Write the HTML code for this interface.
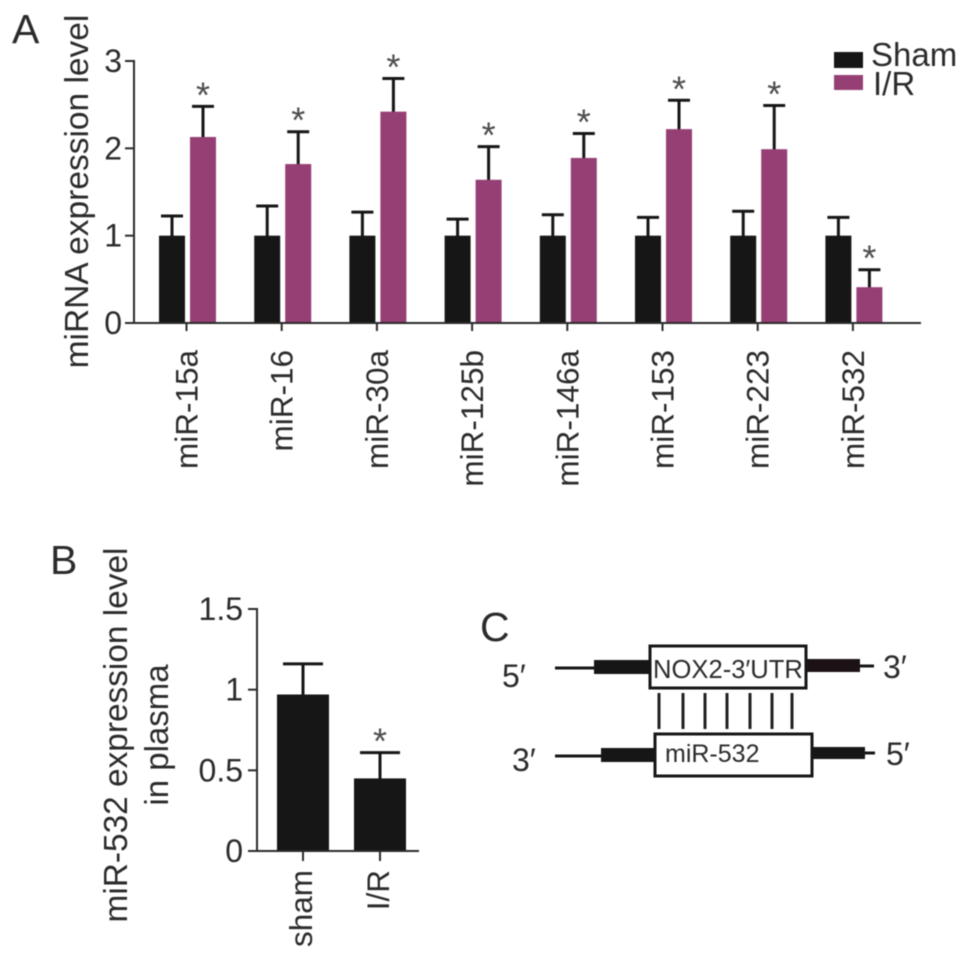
<!DOCTYPE html>
<html lang="en">
<head>
<meta charset="utf-8">
<title>miRNA expression chart</title>
<style>
html,body{margin:0;padding:0;background:#fff;}
body{width:969px;height:961px;overflow:hidden;}
svg{display:block;filter:blur(0.45px);}
text{font-family:"Liberation Sans","DejaVu Sans",sans-serif;fill:#2b2b2b;}
</style>
</head>
<body>
<svg id="figure" width="969" height="961" viewBox="0 0 969 961" xmlns="http://www.w3.org/2000/svg">
  <text x="12" y="43" font-size="41">A</text>
  <text x="50" y="574" font-size="41">B</text>
  <text x="480" y="641" font-size="41">C</text>

  <text transform="translate(88,191.5) rotate(-90)" text-anchor="middle" font-size="33.5">miRNA expression level</text>
  <text transform="translate(127,735) rotate(-90)" text-anchor="middle" font-size="33.4">miR-532 expression level</text>
  <text transform="translate(168,735) rotate(-90)" text-anchor="middle" font-size="33">in plasma</text>

  <g id="panel-a"></g>
  <g id="panel-b"></g>

  <g>
    <rect x="834" y="52" width="29" height="16" fill="#161616"/>
    <text x="871" y="66" font-size="33">Sham</text>
    <rect x="834" y="75" width="29" height="15" fill="#963f75"/>
    <text x="873" y="95" font-size="33">I/R</text>
  </g>

  <g>
    <line x1="555" y1="668" x2="595" y2="668" stroke="#161616" stroke-width="3"/>
    <rect x="594" y="660" width="56" height="14" fill="#161616"/>
    <rect x="806" y="659" width="54" height="13" fill="#1c1216"/>
    <line x1="860" y1="666" x2="874" y2="666" stroke="#161616" stroke-width="3"/>
    <rect x="650" y="646" width="156" height="42" fill="#fff" stroke="#161616" stroke-width="3"/>
    <text x="653" y="678" font-size="25.6">NOX2-3′UTR</text>

    <line x1="659" y1="693" x2="659" y2="729" stroke="#222" stroke-width="3"/>
    <line x1="683" y1="693" x2="683" y2="729" stroke="#222" stroke-width="3"/>
    <line x1="705" y1="693" x2="705" y2="729" stroke="#222" stroke-width="3"/>
    <line x1="727" y1="693" x2="727" y2="729" stroke="#222" stroke-width="3"/>
    <line x1="750" y1="693" x2="750" y2="729" stroke="#222" stroke-width="3"/>
    <line x1="772" y1="693" x2="772" y2="729" stroke="#222" stroke-width="3"/>
    <line x1="792" y1="693" x2="792" y2="729" stroke="#222" stroke-width="3"/>

    <line x1="555" y1="756" x2="602" y2="756" stroke="#161616" stroke-width="3"/>
    <rect x="601" y="748" width="54" height="14" fill="#161616"/>
    <rect x="812" y="747" width="53" height="12" fill="#161616"/>
    <line x1="865" y1="753" x2="875" y2="753" stroke="#161616" stroke-width="3"/>
    <rect x="655" y="734" width="157" height="42" fill="#fff" stroke="#161616" stroke-width="3"/>
    <text x="665" y="762" font-size="25">miR-532</text>

    <text x="502" y="687" font-size="32">5′</text>
    <text x="883" y="678" font-size="32">3′</text>
    <text x="512" y="771" font-size="32">3′</text>
    <text x="886" y="765" font-size="32">5′</text>
  </g>
</svg>

<script>
var categoriesA = ['miR-15a', 'miR-16', 'miR-30a', 'miR-125b', 'miR-146a', 'miR-153', 'miR-223', 'miR-532'];
var shamValues = [1, 1, 1, 1, 1, 1, 1, 1];
var shamErrorTops = [1.225, 1.34, 1.27, 1.19, 1.24, 1.21, 1.28, 1.21];
var irValues = [2.13, 1.82, 2.42, 1.64, 1.89, 2.22, 1.99, 0.41];
var irErrorTops = [2.48, 2.19, 2.80, 2.02, 2.17, 2.55, 2.49, 0.61];
var irSignificant = [true, true, true, true, true, true, true, true];
var tickLabelsA = ['0', '1', '2', '3'];
var tickValuesA = [0, 1, 2, 3];

var categoriesB = ['sham', 'I/R'];
var plasmaValues = [0.97, 0.45];
var plasmaErrorTops = [1.16, 0.61];
var plasmaSignificant = [false, true];
var tickLabelsB = ['0', '0.5', '1', '1.5'];
var tickValuesB = [0, 0.5, 1, 1.5];

var SVG_NS = 'http://www.w3.org/2000/svg';
var INK = '#161616';
var PURPLE = '#963f75';
var AXIS = '#2b2b2b';

function yA(v) { return 323 - v * (262 / 3); }
function xA(i) { return 187.5 + i * 95.2; }
function yB(v) { return 851 - v * (242 / 1.5); }
function xB(i) { return 303 + i * 77; }

function mk(parent, tag, attrs, content) {
  var el = document.createElementNS(SVG_NS, tag);
  for (var k in attrs) { el.setAttribute(k, attrs[k]); }
  if (content !== undefined) { el.textContent = content; }
  parent.appendChild(el);
  return el;
}

function drawErrorBar(parent, cx, top, base, capWidth, name) {
  var g = mk(parent, 'g', {});
  
  
  var stem = mk(g, 'line', { x1: cx, x2: cx, y1: top, y2: base, stroke: INK, 'stroke-width': 3 });
  
  
  var cap = mk(g, 'line', { x1: cx - capWidth / 2, x2: cx + capWidth / 2, y1: top, y2: top, stroke: INK, 'stroke-width': 3 });
  
  
}

function drawAsterisk(parent, cx, errorTopY, name) {
  var t = mk(parent, 'text', { x: cx, y: errorTopY + 1, 'text-anchor': 'middle', 'font-size': 36 }, '*');
  t.style.fill = '#4d4d4d';
  
  
}

function drawPanelA() {
  var root = document.getElementById('panel-a');
  var barW = 26;
  var zero = yA(0);

  categoriesA.forEach(function (cat, i) {
    var c = xA(i);
    var sx = c - 28.5;
    var px = c + 2.5;

    drawErrorBar(root, sx + barW / 2, yA(shamErrorTops[i]), yA(shamValues[i]) + 2, 22, 'sham-error-' + cat);
    drawErrorBar(root, px + barW / 2, yA(irErrorTops[i]), yA(irValues[i]) + 2, 22, 'ir-error-' + cat);

    var sb = mk(root, 'rect', { x: sx, y: yA(shamValues[i]), width: barW, height: zero - yA(shamValues[i]), fill: INK });
    
    

    var pb = mk(root, 'rect', { x: px, y: yA(irValues[i]), width: barW, height: zero - yA(irValues[i]), fill: PURPLE });
    
    

    if (irSignificant[i]) {
      drawAsterisk(root, px + barW / 2, yA(irErrorTops[i]), 'significance-' + cat);
    }

    var tick = mk(root, 'line', { x1: c - 1, x2: c - 1, y1: zero, y2: zero + 8, stroke: AXIS, 'stroke-width': 2 });
    
    

    var label = mk(root, 'text', {
      transform: 'translate(' + (c + 10) + ',350) rotate(-90)',
      'text-anchor': 'end',
      'font-size': 31.5
    }, cat);
    
    
  });

  var yAxis = mk(root, 'line', { x1: 134, x2: 134, y1: yA(3) - 1, y2: zero, stroke: AXIS, 'stroke-width': 2 });
  
  

  var xAxis = mk(root, 'line', { x1: 125, x2: 921, y1: zero, y2: zero, stroke: AXIS, 'stroke-width': 2 });
  
  

  tickValuesA.forEach(function (v, i) {
    var tick = mk(root, 'line', { x1: 125, x2: 134, y1: yA(v), y2: yA(v), stroke: AXIS, 'stroke-width': 2 });
    
    

    var label = mk(root, 'text', { x: 122, y: yA(v) + 11, 'text-anchor': 'end', 'font-size': 32 }, tickLabelsA[i]);
    
    
  });
}

function drawPanelB() {
  var root = document.getElementById('panel-b');
  var barW = 52;
  var zero = yB(0);

  categoriesB.forEach(function (cat, i) {
    var c = xB(i);

    drawErrorBar(root, c, yB(plasmaErrorTops[i]), yB(plasmaValues[i]) + 2, 40, 'plasma-error-' + i);

    var bar = mk(root, 'rect', { x: c - barW / 2, y: yB(plasmaValues[i]), width: barW, height: zero - yB(plasmaValues[i]), fill: INK });
    
    

    if (plasmaSignificant[i]) {
      drawAsterisk(root, c, yB(plasmaErrorTops[i]), 'plasma-significance-' + i);
    }

    var tick = mk(root, 'line', { x1: c, x2: c, y1: zero, y2: zero + 10, stroke: AXIS, 'stroke-width': 2 });
    
    

    var label = mk(root, 'text', {
      transform: 'translate(' + (c + 9) + ',870) rotate(-90)',
      'text-anchor': 'end',
      'font-size': 31.5
    }, cat);
    
    
  });

  var yAxis = mk(root, 'line', { x1: 257, x2: 257, y1: yB(1.5) - 1, y2: zero, stroke: AXIS, 'stroke-width': 2 });
  
  

  var xAxis = mk(root, 'line', { x1: 248, x2: 419, y1: zero, y2: zero, stroke: AXIS, 'stroke-width': 2 });
  
  

  tickValuesB.forEach(function (v, i) {
    var tick = mk(root, 'line', { x1: 248, x2: 257, y1: yB(v), y2: yB(v), stroke: AXIS, 'stroke-width': 2 });
    
    

    var label = mk(root, 'text', { x: 243, y: yB(v) + 11, 'text-anchor': 'end', 'font-size': 32 }, tickLabelsB[i]);
    
    
  });
}

drawPanelA();
drawPanelB();
</script>
</body>
</html>
